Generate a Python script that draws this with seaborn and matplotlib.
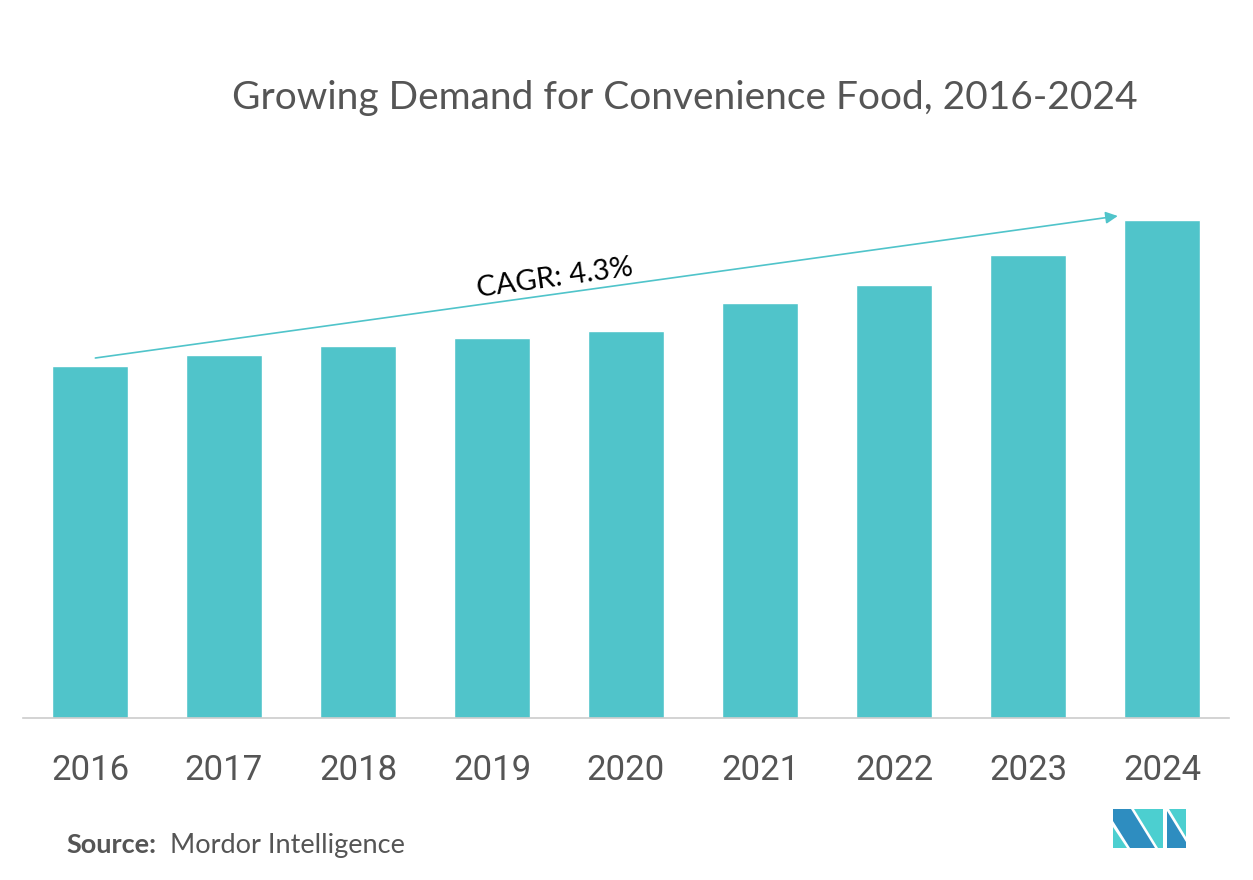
import pandas as pd
import seaborn as sns
import matplotlib.pyplot as plt
from matplotlib.patches import Polygon

years = ['2016', '2017', '2018', '2019', '2020', '2021', '2022', '2023', '2024']
values = [352, 363, 372, 380, 387, 415, 433, 463, 498]

df = pd.DataFrame({'year': years, 'value': values})

sns.set_style('white')
plt.rcParams['font.family'] = ['Lato', 'DejaVu Sans']

bar_color = '#50C4CA'
text_gray = '#555555'

fig = plt.figure(figsize=(12.53, 8.8), dpi=100)
ax = fig.add_axes([23 / 1253, 162 / 880, 1206 / 1253, 558 / 880])

sns.barplot(data=df, x='year', y='value', color=bar_color, width=0.567,
            saturation=1, ax=ax)
ax.set_xlim(-0.5, 8.5)
ax.set_ylim(0, 558)
ax.set_xlabel('')
ax.set_ylabel('')
ax.set_yticks([])
for s in ['top', 'right', 'left']:
    ax.spines[s].set_visible(False)
ax.spines['bottom'].set_color('#cccccc')
ax.spines['bottom'].set_linewidth(1.2)
ax.tick_params(axis='x', length=0, pad=26, labelsize=25, labelcolor=text_gray)
for lbl in ax.get_xticklabels():
    lbl.set_family(['Roboto', 'DejaVu Sans'])

# CAGR arrow
ax.annotate('', xy=(7.67, 502), xytext=(0.04, 360),
            arrowprops=dict(arrowstyle='-|>', color=bar_color, lw=1.2,
                            mutation_scale=18, shrinkA=0, shrinkB=0))
ax.text(3.47, 440, 'CAGR: 4.3%', rotation=7.9, ha='center', va='center',
        fontsize=21, color='black', rotation_mode='anchor')

fig.text(685 / 1253, 1 - 98 / 880, 'Growing Demand for Convenience Food, 2016-2024',
         ha='center', va='center', fontsize=28, color=text_gray)

fig.text(66 / 1253, 1 - 845 / 880, 'Source:', ha='left', va='center',
         fontsize=19.5, color=text_gray, fontweight='bold')
fig.text(170 / 1253, 1 - 845 / 880, 'Mordor Intelligence', ha='left', va='center',
         fontsize=19.5, color=text_gray)

# logo
def px(pts):
    return [(x / 1253, 1 - y / 880) for x, y in pts]

dark = '#2E8DC0'
teal = '#4CCFD0'
shapes = [
    ([(1113, 827), (1113, 848), (1127, 848)], teal),
    ([(1113, 809), (1131, 809), (1155, 848), (1130, 848), (1113, 821)], dark),
    ([(1134, 809), (1163, 809), (1163, 848), (1158, 848)], teal),
    ([(1167, 811), (1186, 842), (1186, 848), (1167, 848)], dark),
    ([(1169, 809), (1186, 809), (1186, 837)], teal),
]
for pts, c in shapes:
    fig.patches.append(Polygon(px(pts), closed=True, facecolor=c,
                               edgecolor='none', transform=fig.transFigure))

plt.savefig('out.png', dpi=100)
